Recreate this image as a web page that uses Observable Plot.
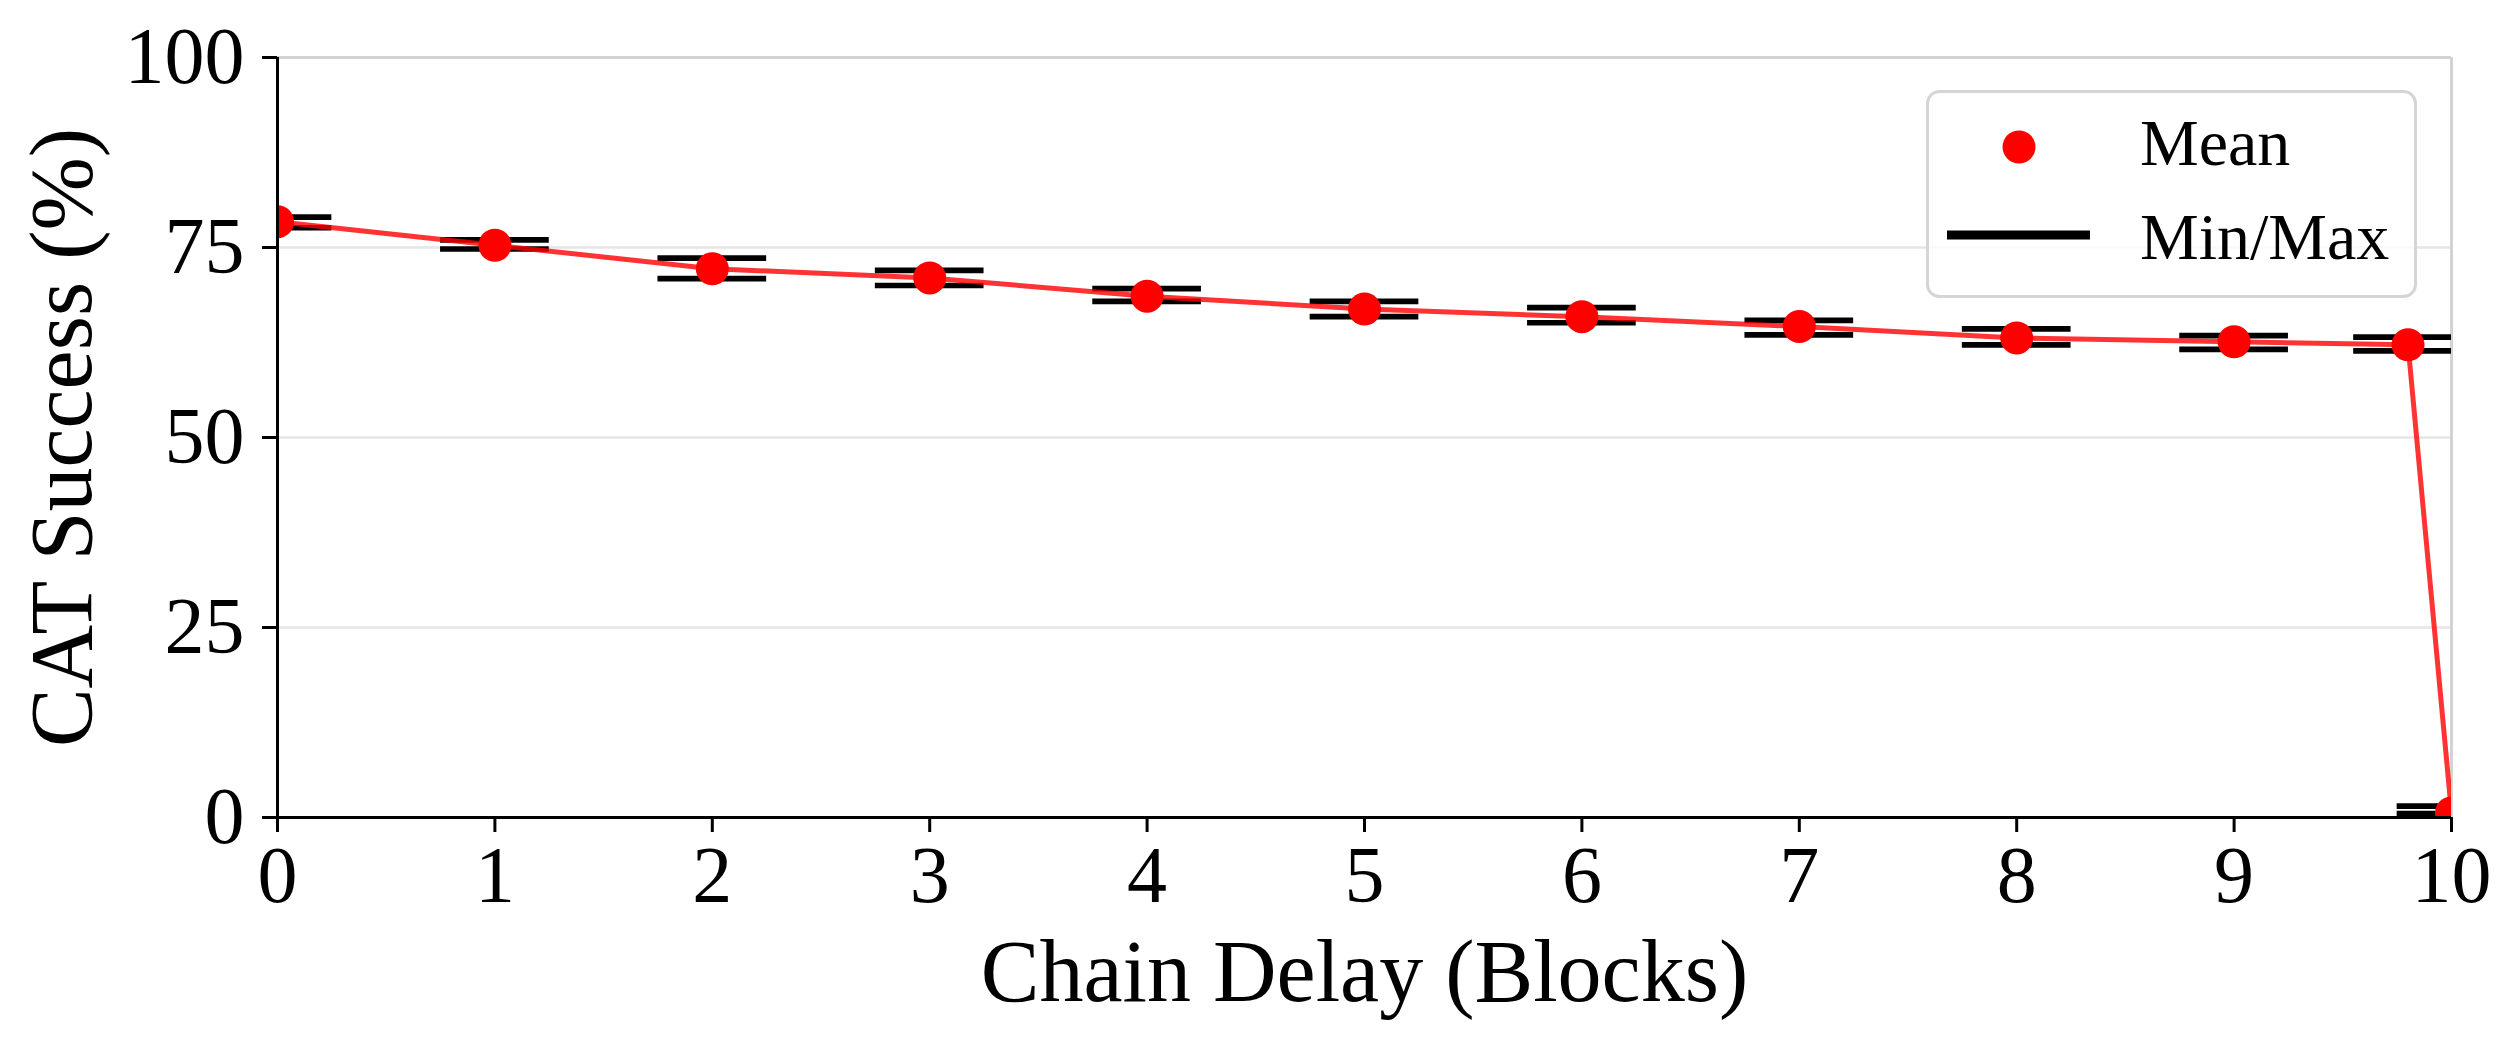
<!DOCTYPE html>
<html>
<head>
<meta charset="utf-8">
<script src="https://cdn.jsdelivr.net/npm/d3@7"></script>
<script src="https://cdn.jsdelivr.net/npm/@observablehq/plot@0.6"></script>
<style>
  html, body { margin: 0; padding: 0; background: white; }
  #wrap { position: relative; width: 2520px; height: 1047px; }
  #legend { position: absolute; left: 1926px; top: 90px; }
</style>
</head>
<body>
<div id="wrap"></div>
<script>
// ---- data ----
const delays = [0, 1, 2, 3, 4, 5, 6, 7, 8, 9, 9.8, 10];
const means  = [78.4, 75.3, 72.2, 71.0, 68.6, 66.9, 65.9, 64.6, 63.1, 62.6, 62.2, 0.6];
const mins   = [77.6, 74.8, 70.9, 70.0, 67.9, 65.9, 65.1, 63.5, 62.2, 61.6, 61.4, 0.5];
const maxs   = [79.0, 76.0, 73.6, 72.0, 69.6, 67.9, 67.1, 65.4, 64.3, 63.4, 63.2, 1.5];
const xTicks = [0, 1, 2, 3, 4, 5, 6, 7, 8, 9, 10];
const yTicks = [0, 25, 50, 75, 100];
const yGrid  = [25, 50, 75];
const xLabel = "Chain Delay (Blocks)";
const yLabel = "CAT Success (%)";
const legendLabels = ["Mean", "Min/Max"];

const data = delays.map((x, i) => ({x, mean: means[i], min: mins[i], max: maxs[i]}));
const half = 0.25;
const font = "'Liberation Serif', 'Times New Roman', serif";

const chart = Plot.plot({
  width: 2520,
  height: 1047,
  marginLeft: 277,
  marginRight: 69,
  marginTop: 57,
  marginBottom: 230,
  style: {fontFamily: font, background: "white", color: "black", overflow: "visible"},
  x: {domain: [0, 10]},
  y: {domain: [0, 100]},
  marks: [
    Plot.ruleY(yGrid, {stroke: "#e6e6e6", strokeWidth: 2.7}),
    Plot.ruleY([100], {stroke: "#d3d3d3", strokeWidth: 3}),
    Plot.ruleX([10], {stroke: "#d3d3d3", strokeWidth: 3}),
    Plot.ruleY(data, {x1: d => d.x - half, x2: d => d.x + half, y: "max", stroke: "black", strokeWidth: 5.7, clip: true}),
    Plot.ruleY(data, {x1: d => d.x - half, x2: d => d.x + half, y: "min", stroke: "black", strokeWidth: 5.7, clip: true}),
    Plot.line(data, {x: "x", y: "mean", stroke: "red", strokeOpacity: 0.8, strokeWidth: 5, clip: true}),
    Plot.dot(data, {x: "x", y: "mean", r: 16.5, fill: "red", clip: true}),
    Plot.ruleX([0], {stroke: "black", strokeWidth: 3}),
    Plot.ruleY([0], {stroke: "black", strokeWidth: 3}),
    Plot.axisX({ticks: xTicks, tickSize: 15, tickPadding: 13, fontSize: 80, strokeWidth: 3, label: null, tickFormat: d => String(d)}),
    Plot.axisY({ticks: yTicks, tickSize: 15, tickPadding: 18, fontSize: 80, strokeWidth: 3, label: null, tickFormat: d => String(d)}),
    Plot.text([xLabel], {frameAnchor: "bottom", textAnchor: "middle", lineAnchor: "middle", dy: 155, fontSize: 88, fill: "black"}),
    Plot.text([yLabel], {frameAnchor: "left", textAnchor: "middle", lineAnchor: "middle", rotate: -90, dx: -215, fontSize: 88, fill: "black"})
  ]
});

const wrap = document.getElementById("wrap");
wrap.appendChild(chart);

// ---- legend (overlay) ----
const lg = d3.select(wrap).append("svg")
  .attr("id", "legend")
  .attr("width", 491).attr("height", 208)
  .style("font-family", font);
lg.append("rect")
  .attr("x", 1.5).attr("y", 1.5).attr("width", 488).attr("height", 205).attr("rx", 12)
  .attr("fill", "white").attr("fill-opacity", 0.8)
  .attr("stroke", "#d5d5d5").attr("stroke-width", 3);
lg.append("circle").attr("cx", 93).attr("cy", 57).attr("r", 16.5).attr("fill", "red");
lg.append("line").attr("x1", 21).attr("x2", 164).attr("y1", 145).attr("y2", 145)
  .attr("stroke", "black").attr("stroke-width", 9);
lg.selectAll("text.lab").data(legendLabels).join("text")
  .attr("class", "lab")
  .attr("x", 214)
  .attr("y", (d, i) => 75 + i * 94)
  .attr("font-size", 66)
  .attr("fill", "black")
  .text(d => d);
</script>
</body>
</html>
